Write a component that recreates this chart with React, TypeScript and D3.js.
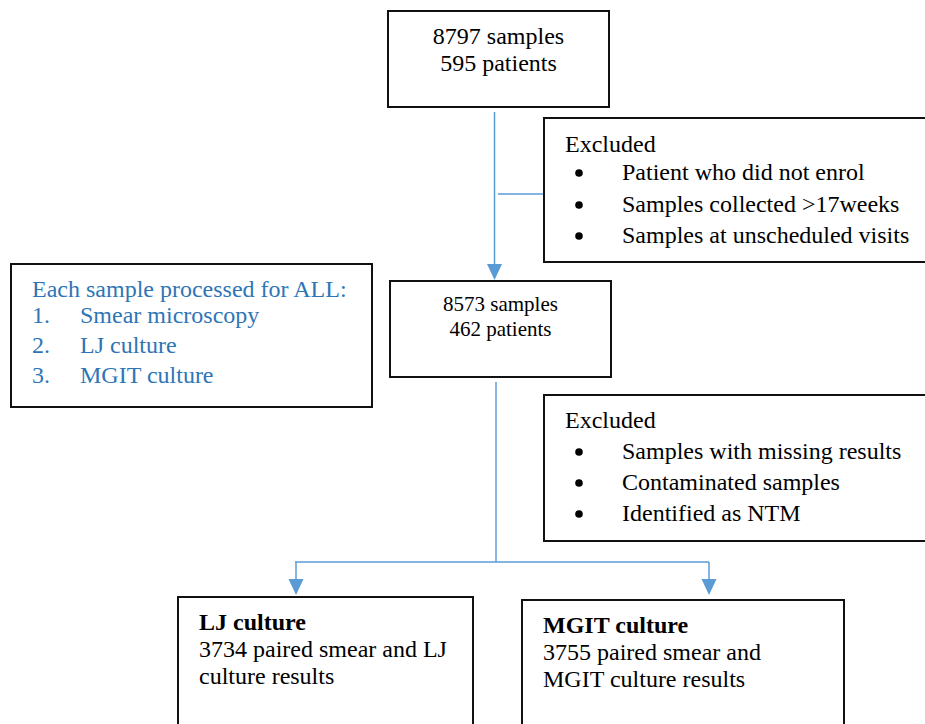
import React from "react";
import * as d3 from "d3";

const topBoxLines = ["8797 samples", "595 patients"];
const midBoxLines = ["8573 samples", "462 patients"];
const processHeader = "Each sample processed for ALL:";
const processNums = ["1.", "2.", "3."];
const processItems = ["Smear microscopy", "LJ culture", "MGIT culture"];
const excludedTitle = "Excluded";
const excluded1 = ["Patient who did not enrol", "Samples collected >17weeks", "Samples at unscheduled visits"];
const excluded2 = ["Samples with missing results", "Contaminated samples", "Identified as NTM"];
const ljTitle = "LJ culture";
const ljLines = ["3734 paired smear and LJ", "culture results"];
const mgitTitle = "MGIT culture";
const mgitLines = ["3755 paired smear and", "MGIT culture results"];

const FONT = "'Liberation Serif', 'Times New Roman', serif";
const BLUE_LINE = "#5B9BD5";
const BLUE_TEXT = "#2E75B6";

const Box = ({ x, y, w, h }: { x: number; y: number; w: number; h: number }) => (
  <rect x={x} y={y} width={w} height={h} fill="#fff" stroke="#111" strokeWidth={2} />
);

const Arrow = ({ x, y1, y2 }: { x: number; y1: number; y2: number }) => {
  const line = d3.line();
  const head = line([[x - 7.5, y2 - 16], [x + 7.5, y2 - 16], [x, y2]]) + "Z";
  return (
    <g>
      <line x1={x} y1={y1} x2={x} y2={y2 - 14} stroke={BLUE_LINE} strokeWidth={1.5} />
      <path d={head} fill={BLUE_LINE} />
    </g>
  );
};

export default function App() {
  const ex1Y = d3.scaleOrdinal<number, number>().domain([0, 1, 2]).range([180, 212, 243]);
  const ex2Y = d3.scaleOrdinal<number, number>().domain([0, 1, 2]).range([459, 490, 521]);
  const procY = d3.scaleOrdinal<number, number>().domain([0, 1, 2]).range([323, 353, 383]);
  return (
    <svg
      width={925}
      height={724}
      style={{ position: "absolute", left: 0, top: 0, background: "#fff" }}
      fontFamily={FONT}
    >
      <rect x={0} y={0} width={925} height={724} fill="#fff" />
      {/* connectors */}
      <Arrow x={494.5} y1={112} y2={280} />
      <line x1={498} y1={194} x2={544} y2={194} stroke={BLUE_LINE} strokeWidth={1.5} />
      <line x1={496} y1={382} x2={496} y2={562} stroke={BLUE_LINE} strokeWidth={1.5} />
      <line x1={295} y1={562} x2={709} y2={562} stroke={BLUE_LINE} strokeWidth={1.5} />
      <Arrow x={296} y1={562} y2={595} />
      <Arrow x={709} y1={562} y2={595} />

      {/* top box */}
      <Box x={388} y={11} w={221} h={96} />
      {topBoxLines.map((t, i) => (
        <text key={t} x={498.5} y={44 + i * 27} fontSize={24} textAnchor="middle" fill="#000">
          {t}
        </text>
      ))}

      {/* excluded 1 */}
      <Box x={544} y={118} w={400} h={144} />
      <text x={565} y={152} fontSize={24} fill="#000">{excludedTitle}</text>
      {excluded1.map((t, i) => (
        <g key={t}>
          <circle cx={579} cy={ex1Y(i) - 7} r={3.8} fill="#000" />
          <text x={622} y={ex1Y(i)} fontSize={24} fill="#000">{t}</text>
        </g>
      ))}

      {/* process box */}
      <Box x={11} y={264} w={361} h={143} />
      <text x={32} y={297} fontSize={24} fill={BLUE_TEXT}>{processHeader}</text>
      {processItems.map((t, i) => (
        <g key={t}>
          <text x={32} y={procY(i)} fontSize={24} fill={BLUE_TEXT}>{processNums[i]}</text>
          <text x={80} y={procY(i)} fontSize={24} fill={BLUE_TEXT}>{t}</text>
        </g>
      ))}

      {/* middle box */}
      <Box x={390} y={281} w={221} h={96} />
      {midBoxLines.map((t, i) => (
        <text key={t} x={500.5} y={311 + i * 25} fontSize={21} textAnchor="middle" fill="#000">
          {t}
        </text>
      ))}

      {/* excluded 2 */}
      <Box x={544} y={395} w={400} h={146} />
      <text x={565} y={428} fontSize={24} fill="#000">{excludedTitle}</text>
      {excluded2.map((t, i) => (
        <g key={t}>
          <circle cx={579} cy={ex2Y(i) - 7} r={3.8} fill="#000" />
          <text x={622} y={ex2Y(i)} fontSize={24} fill="#000">{t}</text>
        </g>
      ))}

      {/* LJ box */}
      <Box x={178} y={597} w={295} h={150} />
      <text x={199} y={630} fontSize={24} fontWeight="bold" fill="#000">{ljTitle}</text>
      {ljLines.map((t, i) => (
        <text key={t} x={199} y={657 + i * 27} fontSize={24} fill="#000">{t}</text>
      ))}

      {/* MGIT box */}
      <Box x={522} y={600} w={322} h={150} />
      <text x={543} y={633} fontSize={24} fontWeight="bold" fill="#000">{mgitTitle}</text>
      {mgitLines.map((t, i) => (
        <text key={t} x={543} y={660 + i * 27} fontSize={24} fill="#000">{t}</text>
      ))}
    </svg>
  );
}
